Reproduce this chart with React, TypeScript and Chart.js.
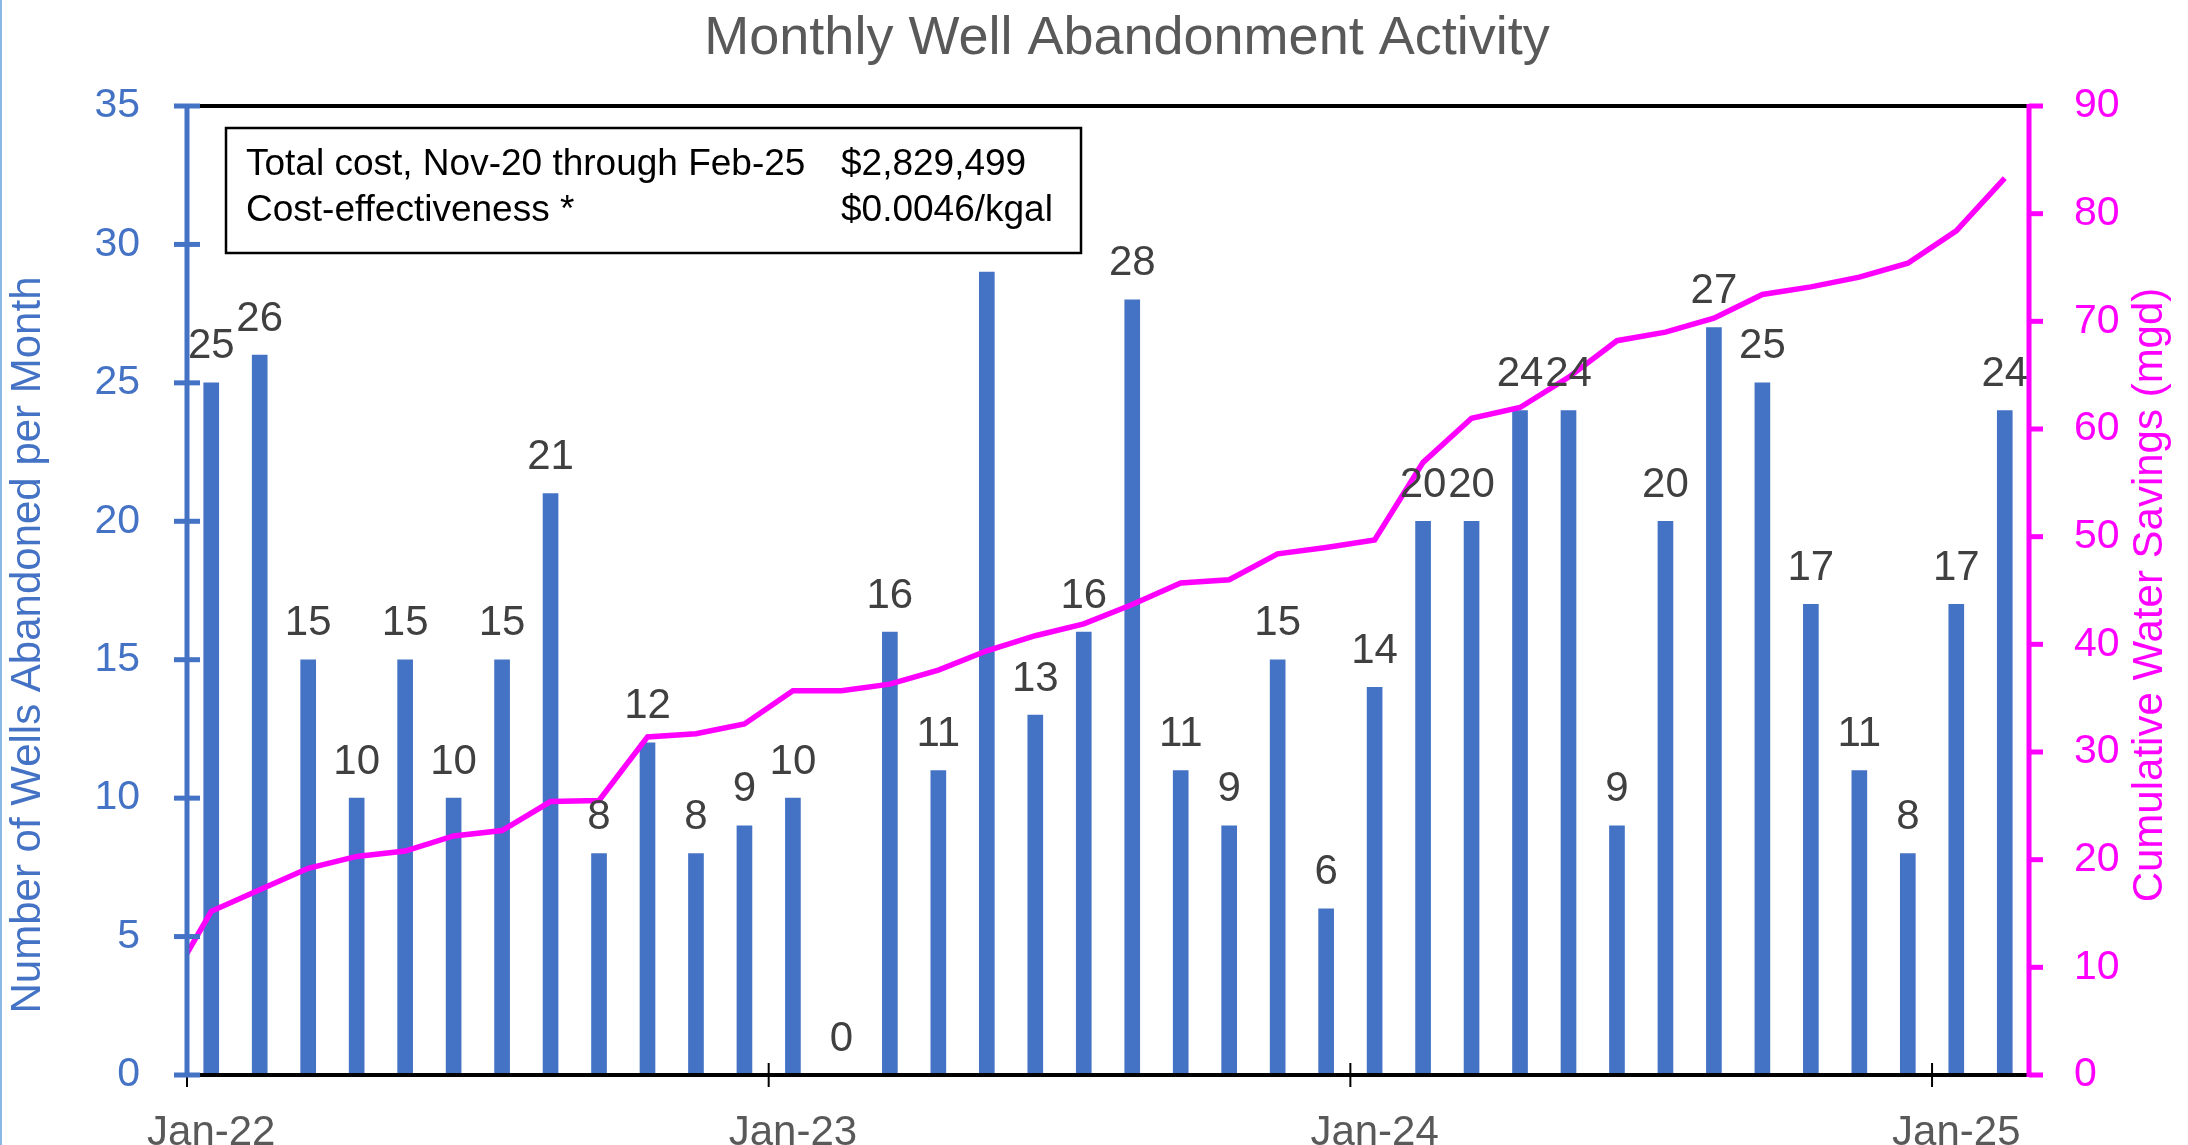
import React, { useEffect, useRef } from 'react';
import { Chart, registerables } from 'chart.js';

Chart.register(...registerables);

// ---- Data ----
const months = [
  'Jan-22', 'Feb-22', 'Mar-22', 'Apr-22', 'May-22', 'Jun-22', 'Jul-22', 'Aug-22', 'Sep-22', 'Oct-22', 'Nov-22', 'Dec-22',
  'Jan-23', 'Feb-23', 'Mar-23', 'Apr-23', 'May-23', 'Jun-23', 'Jul-23', 'Aug-23', 'Sep-23', 'Oct-23', 'Nov-23', 'Dec-23',
  'Jan-24', 'Feb-24', 'Mar-24', 'Apr-24', 'May-24', 'Jun-24', 'Jul-24', 'Aug-24', 'Sep-24', 'Oct-24', 'Nov-24', 'Dec-24',
  'Jan-25', 'Feb-25',
];

const wellsAbandoned = [
  25, 26, 15, 10, 15, 10, 15, 21, 8, 12, 8, 9,
  10, 0, 16, 11, 29, 13, 16, 28, 11, 9, 15, 6,
  14, 20, 20, 24, 24, 9, 20, 27, 25, 17, 11, 8,
  17, 24,
];

// Cumulative savings (mgd); first value is Dec-21 (just before the plotted range)
const savingsMonths = ['Dec-21', ...months];
const cumulativeSavings = [
  7.4,
  15.2, 17.2, 19.2, 20.3, 20.8, 22.2, 22.7, 25.4, 25.5, 31.4, 31.7, 32.6,
  35.7, 35.7, 36.3, 37.6, 39.4, 40.8, 41.9, 43.7, 45.7, 46.0, 48.4, 49.0,
  49.7, 56.9, 61.0, 62.0, 64.8, 68.2, 69.0, 70.3, 72.5, 73.2, 74.1, 75.4,
  78.4, 83.3,
];

const leftTicks = [0, 5, 10, 15, 20, 25, 30, 35];
const rightTicks = [0, 10, 20, 30, 40, 50, 60, 70, 80, 90];

const chartTitle = 'Monthly Well Abandonment Activity';
const leftAxisTitle = 'Number of Wells Abandoned per Month';
const rightAxisTitle = 'Cumulative Water Savings (mgd)';
const boxRows = [
  ['Total cost, Nov-20 through Feb-25', '$2,829,499'],
  ['Cost-effectiveness *', '$0.0046/kgal'],
];

const FONT = '"Liberation Sans", Arial, sans-serif';
const W = 2188;
const H = 1145;

const yearStartIdx = months.map((m, i) => (m.startsWith('Jan') ? i : -1)).filter((i) => i >= 0);

const decorPlugin = {
  id: 'decor',
  afterDatasetsDraw(chart: any) {
    const { ctx } = chart;
    const meta = chart.getDatasetMeta(0);
    ctx.save();
    ctx.font = `42px ${FONT}`;
    ctx.fillStyle = '#404040';
    ctx.textAlign = 'center';
    ctx.textBaseline = 'middle';
    meta.data.forEach((el: any, i: number) => {
      ctx.fillText(String(wellsAbandoned[i]), el.x, el.y - 36);
    });
    ctx.restore();
  },
  afterDraw(chart: any) {
    const { ctx, chartArea, scales } = chart;
    const { left, right, top, bottom } = chartArea;
    const line = (x1: number, y1: number, x2: number, y2: number) => {
      ctx.beginPath();
      ctx.moveTo(x1, y1);
      ctx.lineTo(x2, y2);
      ctx.stroke();
    };
    ctx.save();
    // page edge line
    ctx.fillStyle = '#8AB8E6';
    ctx.fillRect(0, 0, 2, H);

    // top & bottom frame lines
    ctx.strokeStyle = '#000000';
    ctx.lineWidth = 4;
    line(left, top, right, top);
    line(left, bottom, right, bottom);
    // x tick marks at year boundaries
    ctx.lineWidth = 2;
    yearStartIdx.forEach((i) => {
      const x = scales.x.getPixelForValue(i - 0.5);
      line(x, bottom - 12, x, bottom + 12);
    });

    // left axis
    ctx.strokeStyle = '#4472C4';
    ctx.lineWidth = 5;
    line(left, top - 2, left, bottom);
    leftTicks.forEach((t) => {
      const y = scales.y.getPixelForValue(t);
      line(left - 13, y, left + 13, y);
    });

    // right axis
    ctx.strokeStyle = '#FF00FF';
    line(right, top - 2, right, bottom + 2);
    rightTicks.forEach((t) => {
      const y = scales.y2.getPixelForValue(t);
      line(right, y, right + 14, y);
    });

    // title
    ctx.fillStyle = '#595959';
    ctx.font = `54px ${FONT}`;
    ctx.textAlign = 'center';
    ctx.textBaseline = 'alphabetic';
    ctx.fillText(chartTitle, 1127, 54);

    // axis titles
    ctx.font = `42px ${FONT}`;
    ctx.textBaseline = 'middle';
    ctx.save();
    ctx.translate(28, 645);
    ctx.rotate(-Math.PI / 2);
    ctx.fillStyle = '#4472C4';
    ctx.fillText(leftAxisTitle, 0, 0);
    ctx.restore();
    ctx.save();
    ctx.translate(2150, 595);
    ctx.rotate(-Math.PI / 2);
    ctx.fillStyle = '#FF00FF';
    ctx.fillText(rightAxisTitle, 0, 0);
    ctx.restore();

    // text box
    ctx.fillStyle = '#FFFFFF';
    ctx.fillRect(226, 128, 855, 125);
    ctx.strokeStyle = '#000000';
    ctx.lineWidth = 2.5;
    ctx.strokeRect(226, 128, 855, 125);
    ctx.fillStyle = '#000000';
    ctx.font = `37px ${FONT}`;
    ctx.textAlign = 'left';
    ctx.textBaseline = 'alphabetic';
    boxRows.forEach((row, r) => {
      const y = 175 + r * 46;
      ctx.fillText(row[0], 246, y);
      ctx.fillText(row[1], 841, y);
    });
    ctx.restore();
  },
};

export default function App() {
  const canvasRef = useRef<HTMLCanvasElement | null>(null);

  useEffect(() => {
    document.body.style.margin = '0';
    document.body.style.overflow = 'hidden';
    const canvas = canvasRef.current;
    if (!canvas) return;

    const chart = new Chart(canvas, {
      type: 'bar',
      data: {
        datasets: [
          {
            type: 'bar',
            label: 'Wells abandoned',
            data: wellsAbandoned.map((v, i) => ({ x: i, y: v })),
            backgroundColor: '#4472C4',
            barThickness: 15,
            yAxisID: 'y',
            order: 1,
          },
          {
            type: 'line',
            label: 'Cumulative water savings',
            data: cumulativeSavings.map((v, i) => ({ x: i - 1, y: v })),
            borderColor: '#FF00FF',
            borderWidth: 5.5,
            pointRadius: 0,
            tension: 0,
            fill: false,
            yAxisID: 'y2',
            order: 0,
          } as any,
        ],
      },
      options: {
        responsive: false,
        animation: false,
        devicePixelRatio: 1,
        layout: { padding: { top: 106, left: 0, right: 0, bottom: 0 } },
        plugins: {
          legend: { display: false },
          tooltip: { enabled: false },
          title: { display: false },
        },
        scales: {
          x: {
            type: 'linear',
            min: -0.5,
            max: months.length - 0.5,
            offset: false,
            grid: { display: false },
            border: { display: false },
            afterBuildTicks: (scale: any) => {
              scale.ticks = yearStartIdx.map((i) => ({ value: i }));
            },
            afterFit: (scale: any) => {
              scale.height = 70;
            },
            ticks: {
              autoSkip: false,
              maxRotation: 0,
              minRotation: 0,
              padding: 25,
              color: '#595959',
              font: { family: FONT, size: 42 },
              callback: (v: any) => months[Number(v)] ?? '',
            },
          },
          y: {
            type: 'linear',
            position: 'left',
            min: 0,
            max: 35,
            grid: { display: false },
            border: { display: false },
            afterBuildTicks: (scale: any) => {
              scale.ticks = leftTicks.map((v) => ({ value: v }));
            },
            afterFit: (scale: any) => {
              scale.width = 187;
            },
            ticks: {
              padding: 39,
              color: '#4472C4',
              font: { family: FONT, size: 41 },
            },
          },
          y2: {
            type: 'linear',
            position: 'right',
            min: 0,
            max: 90,
            grid: { display: false },
            border: { display: false },
            afterBuildTicks: (scale: any) => {
              scale.ticks = rightTicks.map((v) => ({ value: v }));
            },
            afterFit: (scale: any) => {
              scale.width = W - 2029;
            },
            ticks: {
              padding: 37,
              color: '#FF00FF',
              font: { family: FONT, size: 41 },
            },
          },
        },
      } as any,
      plugins: [decorPlugin],
    });

    return () => {
      chart.destroy();
    };
  }, []);

  return (
    <canvas
      ref={canvasRef}
      width={W}
      height={H}
      style={{ display: 'block', width: `${W}px`, height: `${H}px` }}
    />
  );
}
